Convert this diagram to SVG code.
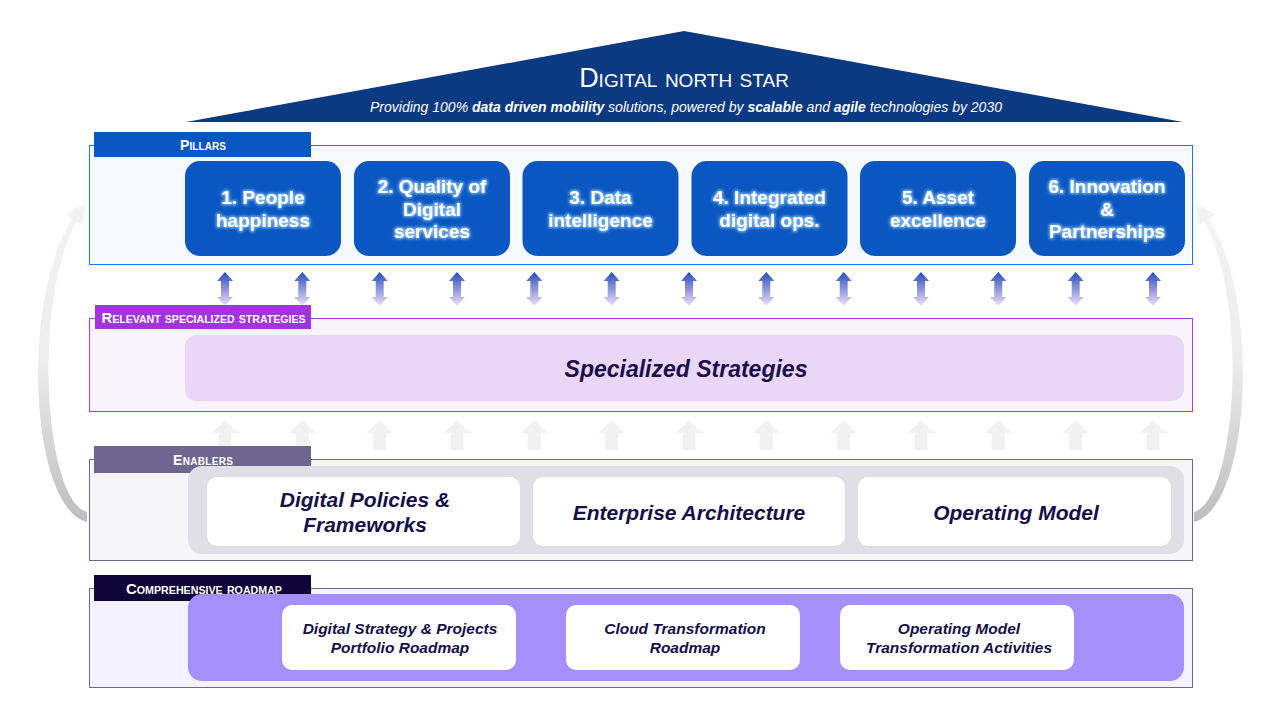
<svg xmlns="http://www.w3.org/2000/svg" width="1280" height="720" viewBox="0 0 1280 720">
<defs>
<style>
.t{font-family:"Liberation Sans",Arial,sans-serif}
.tab{font-family:"Liberation Sans",Arial,sans-serif;font-size:14px;font-weight:bold;fill:#fff;font-variant:small-caps;text-anchor:middle}
.pil{fill:#0a57c2}
.ptx{font-family:"Liberation Sans",Arial,sans-serif;font-size:19px;font-weight:bold;fill:#fff;text-anchor:middle;filter:url(#glow)}
.en{fill:#fff}
.etx{font-family:"Liberation Sans",Arial,sans-serif;font-size:21px;font-weight:bold;font-style:italic;fill:#15104a;text-anchor:middle}
.rtx{font-family:"Liberation Sans",Arial,sans-serif;font-size:15.5px;font-weight:bold;font-style:italic;fill:#15104a;text-anchor:middle}
.da{fill:url(#dag)}
.ua{fill:#f1f1f1}
</style>
<linearGradient id="dag" x1="0" y1="0" x2="0" y2="1">
<stop offset="0" stop-color="#2a4cbd"/>
<stop offset="1" stop-color="#f0e0fa"/>
</linearGradient>
<linearGradient id="cg" gradientUnits="userSpaceOnUse" x1="0" y1="200" x2="0" y2="525">
<stop offset="0" stop-color="#f4f4f4"/>
<stop offset="0.5" stop-color="#ececec"/>
<stop offset="1" stop-color="#bdbdbd"/>
</linearGradient>
<filter id="glow" x="-20%" y="-40%" width="140%" height="180%">
<feMorphology in="SourceAlpha" operator="dilate" radius="1" result="d"/>
<feGaussianBlur in="d" stdDeviation="1.5" result="b"/>
<feFlood flood-color="#9fd2ff" flood-opacity="0.8"/>
<feComposite in2="b" operator="in" result="g"/>
<feMerge><feMergeNode in="g"/><feMergeNode in="SourceGraphic"/></feMerge>
</filter>
<path id="dbl" d="M0 0 L8 9 L4 9 L4 25 L8 25 L0 34 L-8 25 L-4 25 L-4 9 L-8 9 Z"/>
<path id="up" d="M0 0 L13 13 L6.5 13 L6.5 30 L-6.5 30 L-6.5 13 L-13 13 Z"/>
</defs>
<rect width="1280" height="720" fill="#fff"/>

<g id="north-star">
<polygon points="684,31 1183,122 186,122" fill="#0b3a82"/>
<text class="t" x="684" y="87" font-size="27" fill="#fff" text-anchor="middle" style="font-variant:small-caps">Digital north star</text>
<text class="t" x="686" y="112" font-size="14" font-style="italic" fill="#fff" text-anchor="middle">Providing 100% <tspan font-weight="bold">data driven mobility</tspan> solutions, powered by <tspan font-weight="bold">scalable</tspan> and <tspan font-weight="bold">agile</tspan> technologies by 2030</text>
</g>

<g id="connectors">
<path d="M87 522 C30 508 20 300 72 219 L66 214 L86 203 L82 225 L77 221 C32 300 44 500 87 512 Z" fill="url(#cg)"/>
<path d="M1194 522 C1251 508 1261 300 1209 219 L1215 214 L1195 203 L1199 225 L1204 221 C1249 300 1237 500 1194 512 Z" fill="url(#cg)"/>
<g>
<use href="#dbl" class="da" x="225" y="272"/>
<use href="#dbl" class="da" x="302.3" y="272"/>
<use href="#dbl" class="da" x="379.7" y="272"/>
<use href="#dbl" class="da" x="457" y="272"/>
<use href="#dbl" class="da" x="534.3" y="272"/>
<use href="#dbl" class="da" x="611.7" y="272"/>
<use href="#dbl" class="da" x="689" y="272"/>
<use href="#dbl" class="da" x="766.3" y="272"/>
<use href="#dbl" class="da" x="843.7" y="272"/>
<use href="#dbl" class="da" x="921" y="272"/>
<use href="#dbl" class="da" x="998.3" y="272"/>
<use href="#dbl" class="da" x="1075.7" y="272"/>
<use href="#dbl" class="da" x="1153" y="272"/>
</g>
<g>
<use href="#up" class="ua" x="225" y="420"/>
<use href="#up" class="ua" x="302.3" y="420"/>
<use href="#up" class="ua" x="379.7" y="420"/>
<use href="#up" class="ua" x="457" y="420"/>
<use href="#up" class="ua" x="534.3" y="420"/>
<use href="#up" class="ua" x="611.7" y="420"/>
<use href="#up" class="ua" x="689" y="420"/>
<use href="#up" class="ua" x="766.3" y="420"/>
<use href="#up" class="ua" x="843.7" y="420"/>
<use href="#up" class="ua" x="921" y="420"/>
<use href="#up" class="ua" x="998.3" y="420"/>
<use href="#up" class="ua" x="1075.7" y="420"/>
<use href="#up" class="ua" x="1153" y="420"/>
</g>
</g>

<g id="pillars">
<rect x="89.5" y="145.5" width="1103" height="119" fill="#f6f9fe" stroke="#1a75ff" stroke-width="1"/>
<rect x="94" y="132" width="217" height="25" fill="#0a57c2"/>
<text class="tab" x="203" y="150" textLength="46" lengthAdjust="spacing">Pillars</text>
<g id="pillar-1"><rect class="pil" x="185" y="161" width="156" height="95" rx="15"/>
<text class="ptx" x="263" y="204">1. People</text><text class="ptx" x="263" y="227">happiness</text></g>
<g id="pillar-2"><rect class="pil" x="354" y="161" width="156" height="95" rx="15"/>
<text class="ptx" x="432" y="193">2. Quality of</text><text class="ptx" x="432" y="216">Digital</text><text class="ptx" x="432" y="238">services</text></g>
<g id="pillar-3"><rect class="pil" x="522.5" y="161" width="156" height="95" rx="15"/>
<text class="ptx" x="600.5" y="204">3. Data</text><text class="ptx" x="600.5" y="227">intelligence</text></g>
<g id="pillar-4"><rect class="pil" x="691.5" y="161" width="156" height="95" rx="15"/>
<text class="ptx" x="769.5" y="204">4. Integrated</text><text class="ptx" x="769.5" y="227">digital ops.</text></g>
<g id="pillar-5"><rect class="pil" x="860" y="161" width="156" height="95" rx="15"/>
<text class="ptx" x="938" y="204">5. Asset</text><text class="ptx" x="938" y="227">excellence</text></g>
<g id="pillar-6"><rect class="pil" x="1029" y="161" width="156" height="95" rx="15"/>
<text class="ptx" x="1107" y="193">6. Innovation</text><text class="ptx" x="1107" y="216">&amp;</text><text class="ptx" x="1107" y="238">Partnerships</text></g>
</g>

<g id="specialized">
<rect x="89.5" y="318.5" width="1103" height="93" fill="#f8f3fc" stroke="#a040d8" stroke-width="1"/>
<rect x="95" y="305" width="216" height="24" fill="#a333dc"/>
<text class="tab" x="203.5" y="323" textLength="204" lengthAdjust="spacingAndGlyphs">Relevant specialized strategies</text>
<g id="specialized-strategies"><rect x="185" y="335" width="999" height="66" rx="12" fill="#ead6f7"/>
<text class="t" x="686" y="377" font-size="23" font-weight="bold" font-style="italic" fill="#1a0f4a" text-anchor="middle">Specialized Strategies</text></g>
</g>

<g id="enablers">
<rect x="89.5" y="459.5" width="1103" height="101" fill="#f6f6f9" stroke="#6e6690" stroke-width="1"/>
<rect x="94" y="446" width="217" height="27" fill="#6e6690"/>
<text class="tab" x="203" y="465" textLength="60" lengthAdjust="spacing">Enablers</text>
<rect x="188" y="466" width="996" height="88" rx="14" fill="#e0dfe8"/>
<g id="enabler-1"><rect class="en" x="207" y="477" width="313" height="69" rx="10"/>
<text class="etx" x="365" y="507">Digital Policies &amp;</text><text class="etx" x="365" y="532">Frameworks</text></g>
<g id="enabler-2"><rect class="en" x="533" y="477" width="312" height="69" rx="10"/>
<text class="etx" x="689" y="520">Enterprise Architecture</text></g>
<g id="enabler-3"><rect class="en" x="858" y="477" width="313" height="69" rx="10"/>
<text class="etx" x="1016" y="520">Operating Model</text></g>
</g>

<g id="roadmap">
<rect x="89.5" y="588.5" width="1103" height="99" fill="#f4f2fe" stroke="#6e6690" stroke-width="1"/>
<rect x="94" y="575" width="217" height="26" fill="#0f0538"/>
<text class="tab" x="204" y="593.5" textLength="156" lengthAdjust="spacingAndGlyphs">Comprehensive roadmap</text>
<rect x="188" y="594" width="996" height="87" rx="14" fill="#a58ffd"/>
<g id="roadmap-1"><rect class="en" x="282" y="605" width="234" height="65" rx="10"/>
<text class="rtx" x="400" y="634">Digital Strategy &amp; Projects</text><text class="rtx" x="400" y="653">Portfolio Roadmap</text></g>
<g id="roadmap-2"><rect class="en" x="566" y="605" width="234" height="65" rx="10"/>
<text class="rtx" x="685" y="634">Cloud Transformation</text><text class="rtx" x="685" y="653">Roadmap</text></g>
<g id="roadmap-3"><rect class="en" x="840" y="605" width="234" height="65" rx="10"/>
<text class="rtx" x="959" y="634">Operating Model</text><text class="rtx" x="959" y="653">Transformation Activities</text></g>
</g>
</svg>
